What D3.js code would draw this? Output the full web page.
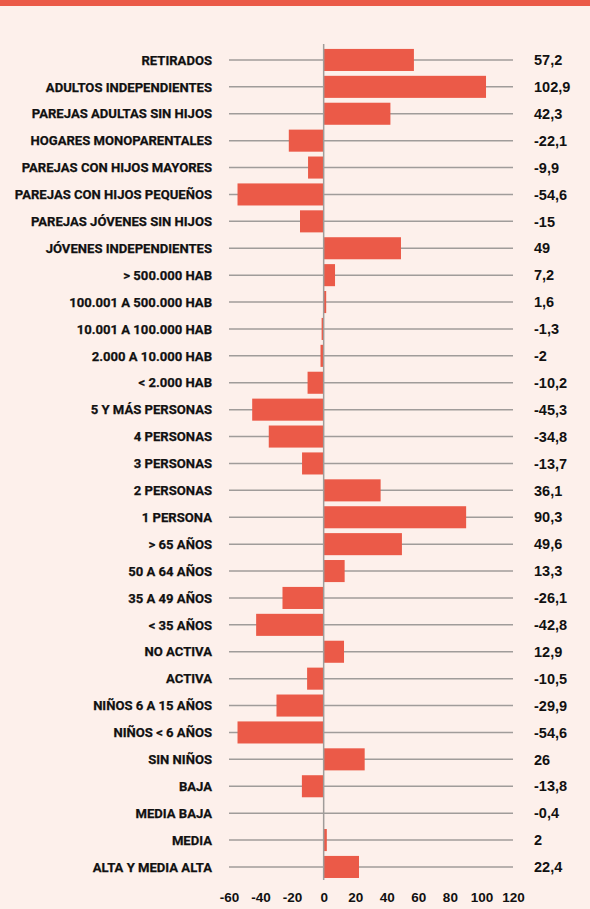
<!DOCTYPE html>
<html>
<head>
<meta charset="utf-8">
<script src="https://cdn.jsdelivr.net/npm/d3@7"></script>
<style>
  html, body { margin: 0; padding: 0; background: #fdf0eb; }
  svg { display: block; }
  .label { font-family: Roboto, sans-serif; font-weight: 700; font-size: 13.1px; fill: #111; stroke: #111; stroke-width: 0.25px; }
  .value { font-family: "Liberation Sans", Arial, sans-serif; font-weight: 700; font-size: 14.5px; fill: #111; }
  .tick text { font-family: "Liberation Sans", Arial, sans-serif; font-weight: 700; font-size: 13.5px; fill: #111; }
</style>
</head>
<body>
<div id="chart"></div>
<script>
  // categories, top to bottom
  const categories = [
    'RETIRADOS', 'ADULTOS INDEPENDIENTES', 'PAREJAS ADULTAS SIN HIJOS',
    'HOGARES MONOPARENTALES', 'PAREJAS CON HIJOS MAYORES',
    'PAREJAS CON HIJOS PEQUEÑOS', 'PAREJAS JÓVENES SIN HIJOS',
    'JÓVENES INDEPENDIENTES', '> 500.000 HAB', '100.001 A 500.000 HAB',
    '10.001 A 100.000 HAB', '2.000 A 10.000 HAB', '< 2.000 HAB',
    '5 Y MÁS PERSONAS', '4 PERSONAS', '3 PERSONAS', '2 PERSONAS',
    '1 PERSONA', '> 65 AÑOS', '50 A 64 AÑOS', '35 A 49 AÑOS', '< 35 AÑOS',
    'NO ACTIVA', 'ACTIVA', 'NIÑOS 6 A 15 AÑOS', 'NIÑOS < 6 AÑOS',
    'SIN NIÑOS', 'BAJA', 'MEDIA BAJA', 'MEDIA', 'ALTA Y MEDIA ALTA'
  ];
  const values = [
    57.2, 102.9, 42.3, -22.1, -9.9, -54.6, -15, 49, 7.2, 1.6, -1.3, -2,
    -10.2, -45.3, -34.8, -13.7, 36.1, 90.3, 49.6, 13.3, -26.1, -42.8,
    12.9, -10.5, -29.9, -54.6, 26, -13.8, -0.4, 2, 22.4
  ];
  const tickValues = [-60, -40, -20, 0, 20, 40, 60, 80, 100, 120];

  const width = 590, height = 909;
  const red = '#eb5a48';
  const grey = '#a09c9a';

  const svg = d3.select('#chart').append('svg')
    .attr('width', width)
    .attr('height', height);

  // top band
  svg.append('rect')
    .attr('x', 0).attr('y', 0)
    .attr('width', width).attr('height', 6)
    .attr('fill', red);

  const x = d3.scaleLinear().domain([-60, 120]).range([229, 513]);
  const y = d3.scaleBand()
    .domain(categories)
    .range([46.5, 880.4])
    .paddingInner(0.18)
    .paddingOuter(0.09);

  const rows = categories.map((c, i) => ({ cat: c, value: values[i] }));
  const fmt = v => String(v).replace('.', ',');

  // gridlines per row
  svg.append('g').selectAll('line')
    .data(rows)
    .enter().append('line')
    .attr('x1', x(-60)).attr('x2', x(120))
    .attr('y1', d => y(d.cat) + y.bandwidth() / 2)
    .attr('y2', d => y(d.cat) + y.bandwidth() / 2)
    .attr('stroke', grey)
    .attr('stroke-width', 1.5);

  // bars
  svg.append('g').selectAll('rect')
    .data(rows)
    .enter().append('rect')
    .attr('x', d => x(Math.min(0, d.value)))
    .attr('width', d => Math.abs(x(d.value) - x(0)))
    .attr('y', d => y(d.cat))
    .attr('height', y.bandwidth())
    .attr('fill', red);

  // zero line
  svg.append('line')
    .attr('x1', x(0)).attr('x2', x(0))
    .attr('y1', 44).attr('y2', 880)
    .attr('stroke', grey)
    .attr('stroke-width', 1.5);

  // category labels
  svg.append('g').selectAll('text')
    .data(rows)
    .enter().append('text')
    .attr('class', 'label')
    .attr('x', 212)
    .attr('y', d => y(d.cat) + y.bandwidth() / 2)
    .attr('dy', '0.36em')
    .attr('text-anchor', 'end')
    .text(d => d.cat);

  // values
  svg.append('g').selectAll('text')
    .data(rows)
    .enter().append('text')
    .attr('class', 'value')
    .attr('x', 534)
    .attr('y', d => y(d.cat) + y.bandwidth() / 2)
    .attr('dy', '0.36em')
    .text(d => fmt(d.value));

  // axis
  const axis = svg.append('g')
    .attr('transform', 'translate(0,892)')
    .call(d3.axisBottom(x).tickValues(tickValues).tickSize(0).tickPadding(0)
      .tickFormat(d => String(d)));
  axis.select('.domain').remove();
</script>
</body>
</html>
